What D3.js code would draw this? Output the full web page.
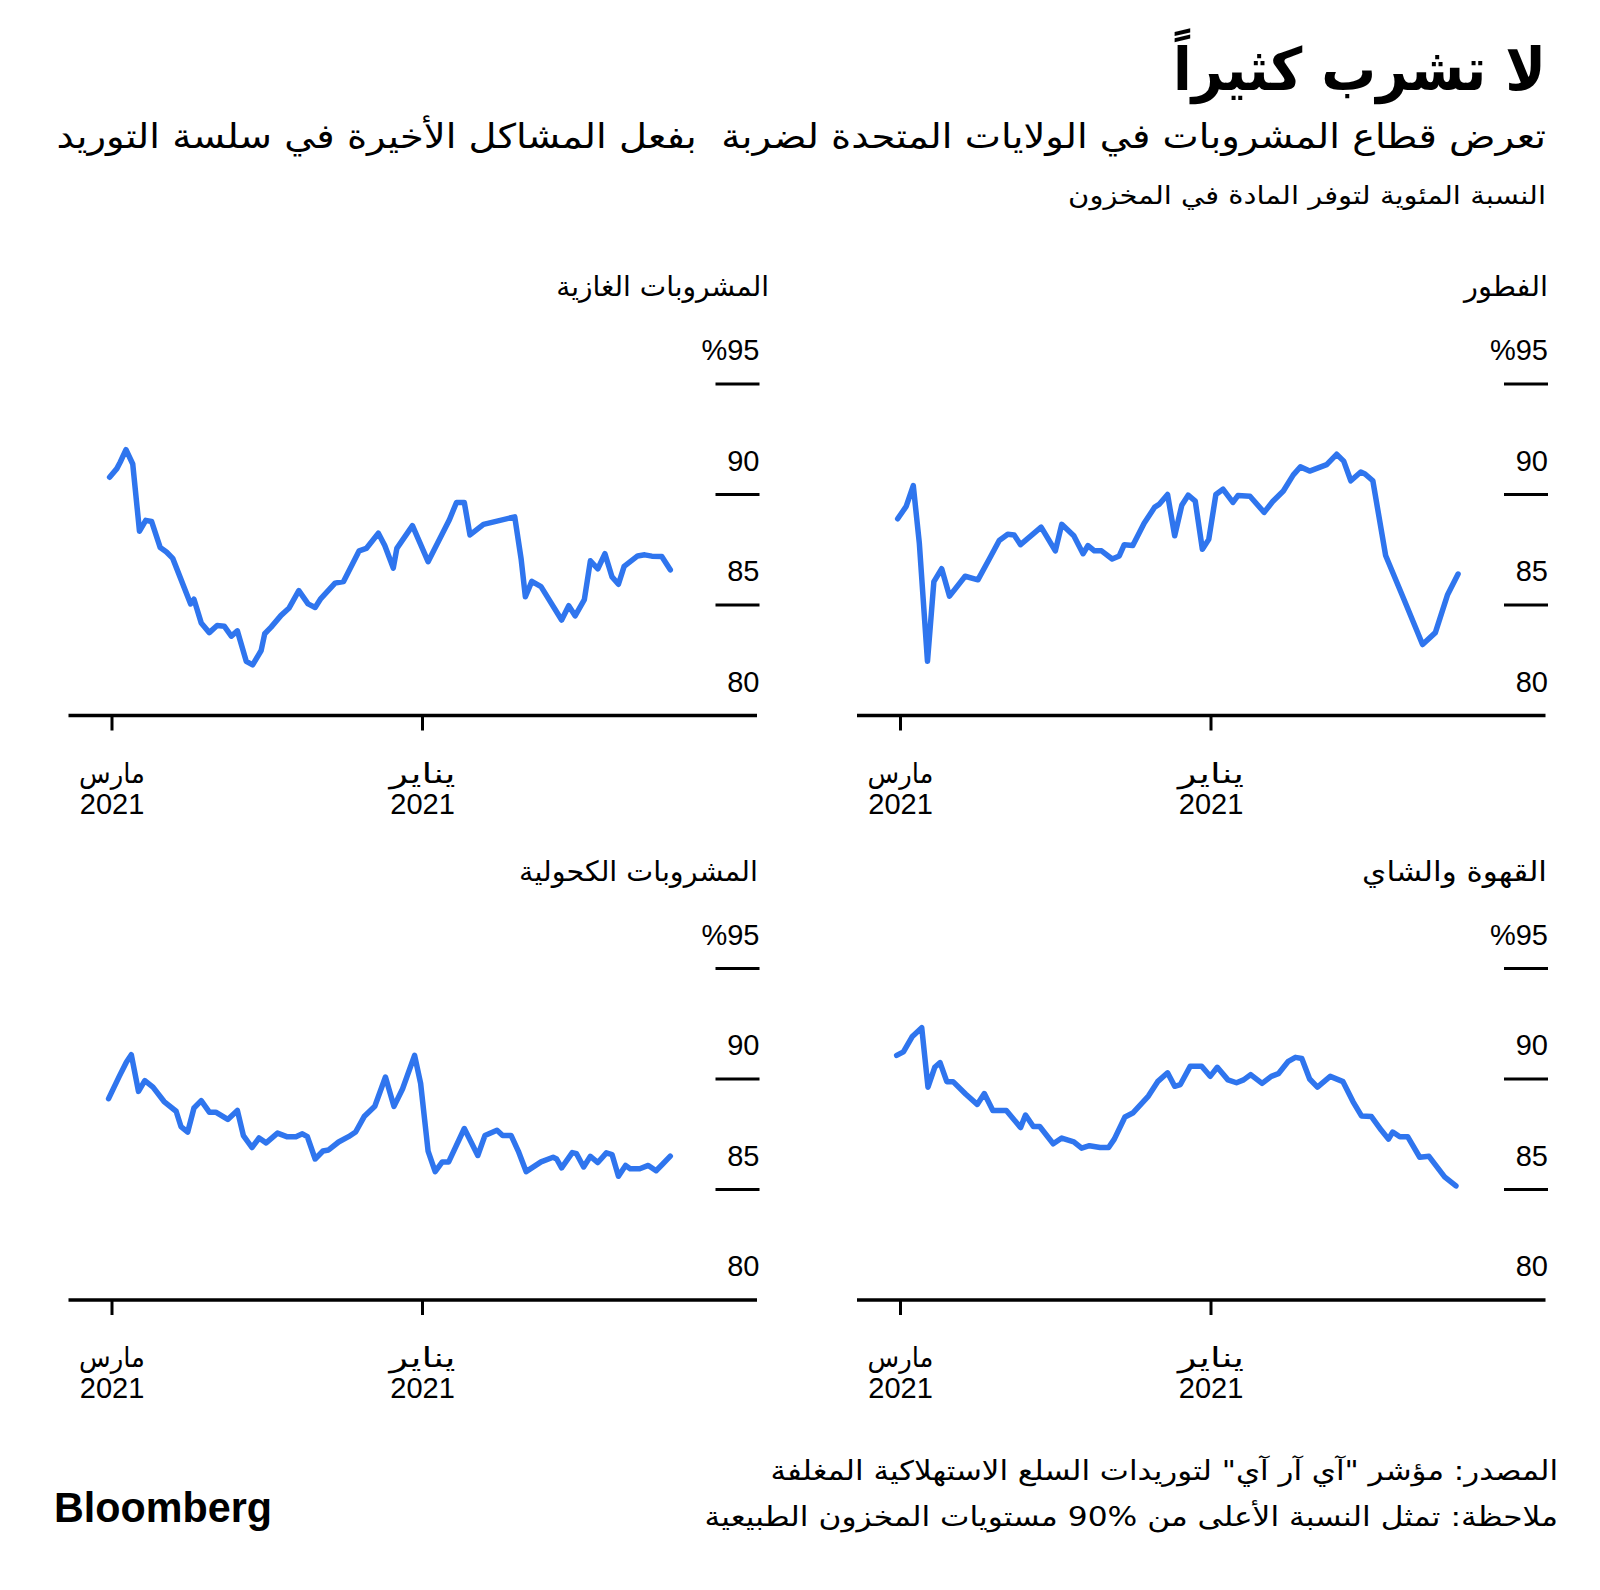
<!DOCTYPE html>
<html>
<head>
<meta charset="utf-8">
<script src="https://cdn.jsdelivr.net/npm/d3@7"></script>
<style>
  html, body { margin: 0; padding: 0; background: #ffffff; }
  svg { display: block; }
</style>
</head>
<body>
<script>
// ---------------- DATA ----------------
const title = "لا تشرب كثيراً";
const subtitle = "تعرض قطاع المشروبات في الولايات المتحدة لضربة  بفعل المشاكل الأخيرة في سلسة التوريد";
const unitNote = "النسبة المئوية لتوفر المادة في المخزون";
const sourceNote = "المصدر: مؤشر \"آي آر آي\" لتوريدات السلع الاستهلاكية المغلفة";
const footNote = "ملاحظة: تمثل النسبة الأعلى من %90 مستويات المخزون الطبيعية";

const categories = ["الفطور", "المشروبات الغازية", "القهوة والشاي", "المشروبات الكحولية"];

const yTicks = [80, 85, 90, 95];
const yTickLabels = ["80", "85", "90", "%95"];
const xTickDates = ["2021-03-01", "2022-01-01"];
const xTickMonths = ["مارس", "يناير"];
const xTickYears = ["2021", "2021"];

// weeks since 2021-03-01, and in-stock percentage
const breakfastWeeks = [-0.4,0.8,1.8,2.65,3.8,4.7,5.8,6.9,9.1,10.9,12.5,13.9,15.1,16.0,16.9,19.8,21.8,22.7,24.4,25.7,26.4,27.3,28.3,29.8,30.8,31.5,32.7,34.3,35.8,36.4,37.6,38.6,39.6,40.5,41.5,42.5,43.4,44.4,45.4,46.8,47.5,49.2,51.2,52.4,53.9,55.3,56.3,57.6,60.0,61.4,62.4,63.4,64.8,65.4,66.5,68.3,70.9,73.5,75.3,77.0,78.5];
const breakfastValues = [88.9,89.46,90.4,87.8,82.45,86.06,86.64,85.4,86.3,86.14,87.08,87.92,88.2,88.17,87.73,88.52,87.45,88.65,88.13,87.32,87.69,87.45,87.45,87.08,87.22,87.73,87.69,88.7,89.43,89.55,90.0,88.13,89.51,89.97,89.7,87.52,87.97,90.0,90.24,89.64,89.95,89.92,89.19,89.68,90.16,90.89,91.25,91.06,91.35,91.82,91.51,90.62,91.02,90.93,90.62,87.24,85.24,83.21,83.75,85.45,86.4];

const sodaWeeks = [-0.34,0.68,1.15,1.97,2.92,3.87,4.75,5.57,6.79,7.67,8.55,11.07,11.54,12.56,13.7,14.8,15.8,16.8,17.65,18.9,19.8,21.0,21.5,22.4,23.8,24.9,26.3,27.6,28.6,29.4,31.4,32.6,34.8,35.8,37.5,38.4,39.6,40.1,42.3,44.5,47.5,48.5,49.6,50.4,52.3,56.7,57.6,58.2,59.1,60.4,63.3,64.3,65.2,66.5,67.35,68.4,69.4,70.4,71.3,72.1,74.0,75.0,76.0,77.4,78.6];
const sodaValues = [90.78,91.17,91.46,92.03,91.38,88.34,88.83,88.78,87.6,87.4,87.11,85.05,85.26,84.19,83.75,84.07,84.04,83.59,83.83,82.45,82.29,82.94,83.7,84.0,84.53,84.85,85.65,85.05,84.89,85.29,85.99,86.06,87.45,87.56,88.25,87.69,86.67,87.56,88.59,86.96,88.86,89.64,89.64,88.17,88.65,88.99,87.08,85.37,86.07,85.83,84.32,84.97,84.51,85.24,87.0,86.64,87.32,86.27,85.94,86.75,87.22,87.27,87.21,87.19,86.59];

const coffeeWeeks = [-0.54,0.41,1.63,2.99,3.87,4.82,5.57,6.52,7.4,9.2,10.8,11.8,13.0,14.9,16.9,17.6,18.7,19.6,21.5,22.7,24.4,25.5,26.6,28.1,29.3,30.1,31.6,32.7,34.9,36.2,37.6,38.6,39.4,40.8,42.4,43.6,44.6,46.1,47.3,48.3,49.3,50.9,52.2,53.2,54.6,55.6,56.5,57.6,58.7,60.5,62.3,63.7,64.9,66.3,67.7,68.7,69.3,70.3,71.4,73.1,74.4,76.6,78.2];
const coffeeValues = [91.07,91.23,91.91,92.32,89.63,90.53,90.74,89.88,89.88,89.31,88.85,89.34,88.58,88.58,87.8,88.37,87.85,87.85,87.07,87.33,87.16,86.87,86.98,86.9,86.9,87.28,88.28,88.46,89.23,89.88,90.28,89.67,89.75,90.58,90.58,90.12,90.53,89.96,89.83,89.96,90.2,89.8,90.12,90.24,90.8,90.98,90.93,90.0,89.63,90.12,89.88,88.98,88.33,88.3,87.68,87.28,87.6,87.39,87.39,86.46,86.5,85.57,85.16];

const alcoholWeeks = [-0.48,1.02,2.04,2.72,3.73,4.62,5.77,7.33,9.03,9.71,10.66,11.54,12.56,13.7,14.6,16.3,17.65,18.5,19.7,20.7,21.7,23.3,24.6,25.9,26.8,27.5,28.6,29.7,30.5,31.9,33.3,34.3,35.5,37.0,38.5,39.7,40.9,42.6,43.45,44.5,45.5,46.5,47.4,49.6,51.5,52.5,54.2,55.0,56.2,57.2,58.3,60.4,62.1,62.6,63.3,64.8,65.4,66.4,67.35,68.4,69.6,70.4,71.3,72.3,72.95,74.3,75.5,76.6,77.5,78.6];
const alcoholValues = [89.11,90.12,90.77,91.1,89.44,89.93,89.63,88.98,88.54,87.85,87.6,88.69,89.02,88.5,88.5,88.17,88.58,87.44,86.9,87.33,87.11,87.55,87.39,87.39,87.52,87.39,86.38,86.74,86.79,87.15,87.39,87.6,88.3,88.77,90.09,88.76,89.55,91.07,89.8,86.74,85.81,86.25,86.25,87.76,86.54,87.44,87.68,87.44,87.44,86.74,85.81,86.25,86.46,86.38,85.98,86.67,86.62,86.02,86.5,86.22,86.66,86.58,85.6,86.09,85.94,85.94,86.09,85.85,86.14,86.51];

// ---------------- LAYOUT ----------------
const W = 1600, H = 1590;
const AR = "'DejaVu Sans', sans-serif";
const NUM = "'Liberation Sans', Arial, sans-serif";
const BLUE = "#2f75ee";
const startDate = new Date(Date.UTC(2021, 2, 1));
const weekToDate = w => new Date(startDate.getTime() + w * 7 * 864e5);

const panels = [
  { name: categories[0], weeks: breakfastWeeks, values: breakfastValues, ox: 900.5, oy: 384, titleX: 1548, titleW: 84 },
  { name: categories[1], weeks: sodaWeeks, values: sodaValues, ox: 112, oy: 384, titleX: 769, titleW: 213 },
  { name: categories[2], weeks: coffeeWeeks, values: coffeeValues, ox: 900.5, oy: 968.5, titleX: 1547, titleW: 185 },
  { name: categories[3], weeks: alcoholWeeks, values: alcoholValues, ox: 112, oy: 968.5, titleX: 758, titleW: 239 }
];

const svg = d3.select("body").append("svg")
  .attr("width", W).attr("height", H)
  .attr("viewBox", `0 0 ${W} ${H}`);

function txt(parent, str, x, y, o) {
  const t = parent.append("text")
    .text(str)
    .attr("x", 0).attr("y", 0)
    .attr("font-family", o.family || AR)
    .attr("font-size", o.size)
    .attr("font-weight", o.weight || "normal")
    .attr("fill", o.fill || "#000")
    .attr("text-anchor", o.anchor || "end");
  if (o.pre) t.style("white-space", "pre");
  let s = 1;
  if (o.width) {
    const w = t.node().getComputedTextLength();
    if (w > 0) s = o.width / w;
  }
  t.attr("transform", `translate(${x},${y}) scale(${s},1)`);
  return t;
}

// Header
txt(svg, title, 1546, 90, { size: 59, weight: "bold", width: 373 });
txt(svg, subtitle, 1546, 148, { size: 34, width: 1490, pre: true });
txt(svg, unitNote, 1546, 204, { size: 25, width: 478 });

// Panels
panels.forEach(p => {
  const g = svg.append("g");
  const x = d3.scaleUtc()
    .domain([new Date(Date.UTC(2021, 2, 1)), new Date(Date.UTC(2022, 0, 1))])
    .range([p.ox, p.ox + 310.5]);
  const y = d3.scaleLinear().domain([80, 95]).range([p.oy + 331.5, p.oy]);
  const rightEdge = p.ox + 647.5;

  // panel title
  txt(g, p.name, p.titleX, p.oy - 88, { size: 28, width: p.titleW });

  // y gridline stubs and labels
  yTicks.forEach((v, i) => {
    if (v > 80) {
      g.append("line")
        .attr("x1", rightEdge - 44).attr("x2", rightEdge)
        .attr("y1", y(v)).attr("y2", y(v))
        .attr("stroke", "#000").attr("stroke-width", 3);
    }
    txt(g, yTickLabels[i], rightEdge, y(v) - 24, { family: NUM, size: 29 });
  });

  // x axis baseline
  g.append("line")
    .attr("x1", p.ox - 43.5).attr("x2", p.ox + 645)
    .attr("y1", y(80)).attr("y2", y(80))
    .attr("stroke", "#000").attr("stroke-width", 3.5);

  // x ticks + labels
  xTickDates.forEach((ds, i) => {
    const d = new Date(ds + "T00:00:00Z");
    const tx = x(d);
    g.append("line")
      .attr("x1", tx).attr("x2", tx)
      .attr("y1", y(80)).attr("y2", y(80) + 15)
      .attr("stroke", "#000").attr("stroke-width", 3);
    txt(g, xTickMonths[i], tx, y(80) + 67, { size: 27, anchor: "middle", width: 66 });
    txt(g, xTickYears[i], tx, y(80) + 98, { family: NUM, size: 29, anchor: "middle" });
  });

  // line
  const data = p.weeks.map((w, i) => ({ date: weekToDate(w), value: p.values[i] }));
  const line = d3.line().x(d => x(d.date)).y(d => y(d.value));
  g.append("path")
    .datum(data)
    .attr("d", line)
    .attr("fill", "none")
    .attr("stroke", BLUE)
    .attr("stroke-width", 5.5)
    .attr("stroke-linejoin", "round")
    .attr("stroke-linecap", "round");
});

// Footer
txt(svg, sourceNote, 1558, 1480, { size: 27, width: 788 });
txt(svg, footNote, 1558, 1526, { size: 27, width: 854 });
txt(svg, "Bloomberg", 54, 1522, { family: NUM, size: 42, weight: "bold", anchor: "start", width: 218 });
</script>
</body>
</html>
